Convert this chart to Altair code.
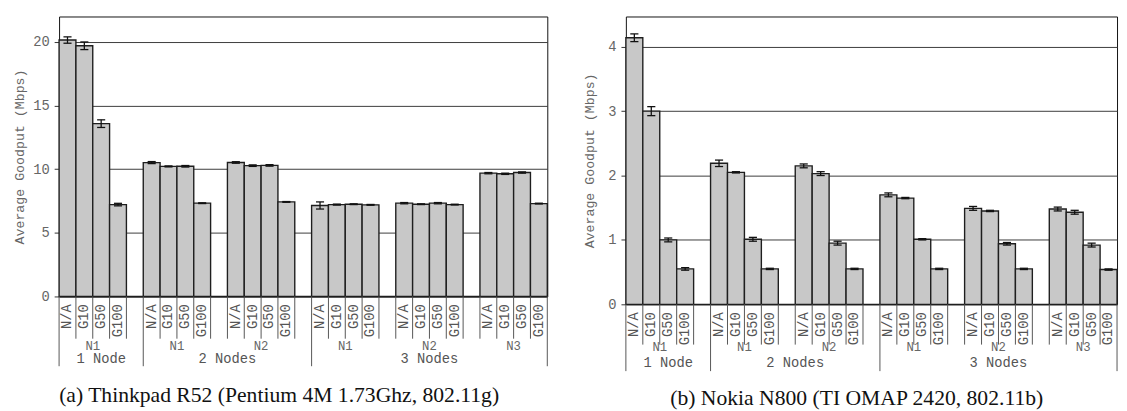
import altair as alt
import pandas as pd

groups = ["1 Node", "2 Nodes", "3 Nodes"]
subgroups = [["N1"], ["N1", "N2"], ["N1", "N2", "N3"]]
configs = ["N/A", "G10", "G50", "G100"]

# (a) Thinkpad R52 — mean goodput (Mbps) per (group, subgroup), bars in config order
thinkpad_mean = [
    [20.15, 19.70, 13.58, 7.22],
    [10.52, 10.22, 10.23, 7.33],
    [10.53, 10.28, 10.30, 7.43],
    [7.15, 7.22, 7.25, 7.20],
    [7.33, 7.25, 7.33, 7.22],
    [9.69, 9.64, 9.74, 7.30],
]
thinkpad_err = [
    [0.25, 0.30, 0.30, 0.10],
    [0.08, 0.04, 0.06, 0.03],
    [0.06, 0.06, 0.06, 0.03],
    [0.28, 0.04, 0.03, 0.03],
    [0.05, 0.03, 0.05, 0.03],
    [0.05, 0.05, 0.05, 0.03],
]
# (b) Nokia N800
nokia_mean = [
    [4.14, 3.00, 1.00, 0.55],
    [2.19, 2.05, 1.01, 0.55],
    [2.15, 2.03, 0.95, 0.55],
    [1.70, 1.65, 1.01, 0.55],
    [1.49, 1.45, 0.94, 0.55],
    [1.48, 1.43, 0.92, 0.54],
]
nokia_err = [
    [0.06, 0.07, 0.03, 0.02],
    [0.05, 0.01, 0.03, 0.01],
    [0.03, 0.03, 0.03, 0.01],
    [0.03, 0.01, 0.01, 0.01],
    [0.03, 0.01, 0.02, 0.01],
    [0.03, 0.03, 0.03, 0.01],
]
thinkpad_ticks = [0, 5, 10, 15, 20]
nokia_ticks = [0, 1, 2, 3, 4]
caption_a = "(a) Thinkpad R52 (Pentium 4M 1.73Ghz, 802.11g)"
caption_b = "(b) Nokia N800 (TI OMAP 2420, 802.11b)"
y_title = "Average Goodput (Mbps)"

MONO = "Liberation Mono"
SERIF = "Liberation Serif"


def build_tables(means, errs):
    bars, subs, grps, short_b, long_b = [], [], [], set(), set()
    slot = 0
    k = 0
    for gi, g in enumerate(groups):
        gstart = slot
        for si, s in enumerate(subgroups[gi]):
            vals, es = means[k], errs[k]
            k += 1
            sstart = slot
            for ci, c in enumerate(configs):
                bars.append(dict(x0=slot, x1=slot + 1, c=slot + 0.5, v=vals[ci],
                                 lo=vals[ci] - es[ci], hi=vals[ci] + es[ci],
                                 cl=slot + 0.26, cr=slot + 0.74, cfg=c))
                slot += 1
            for b in range(sstart, slot + 1):
                short_b.add(b)
            subs.append(dict(c=sstart + 2, name=s))
            last = gi == len(groups) - 1 and si == len(subgroups[gi]) - 1
            if not last:
                bars.append(dict(x0=slot, x1=slot + 1, c=slot + 0.5, v=0.0,
                                 lo=None, hi=None, cl=None, cr=None, cfg=""))
                slot += 1
        grps.append(dict(c=(gstart + slot) / 2, name=g))
        long_b.add(gstart)
        long_b.add(slot)
    short_b -= long_b
    return (pd.DataFrame(bars), pd.DataFrame(subs), pd.DataFrame(grps),
            pd.DataFrame({"b": sorted(short_b)}), pd.DataFrame({"b": sorted(long_b)}), slot)


def panel(means, errs, ymax, ticks, W, H, caption, cap_x, cap_dy,
          sub_dy, grp_dy, short_len, long_len, title_pad, top_shift):
    bars, subs, grps, shorts, longs, n = build_tables(means, errs)
    xs = alt.Scale(domain=[0, n], nice=False, zero=False)
    ys = alt.Scale(domain=[0, ymax], nice=False)
    yax = alt.Axis(values=ticks, grid=True, gridColor="#3a3a3a", gridWidth=1,
                   domain=False, tickColor="#333", tickSize=5, tickWidth=1,
                   labelFont=MONO, labelFontSize=14, labelColor="#666",
                   labelPadding=5, title=y_title, titleFont=MONO,
                   titleFontSize=13.5, titleColor="#666", titleFontWeight="normal",
                   titlePadding=title_pad)
    base = alt.Chart(bars)
    real = base.transform_filter("datum.cfg != ''")
    bar = base.mark_bar(fill="#c8c8c8", stroke="#1e1e1e", strokeWidth=1.4).encode(
        x=alt.X("x0:Q", scale=xs, axis=None), x2="x1:Q",
        y=alt.Y("v:Q", scale=ys, axis=yax), y2=alt.datum(0))
    ev = real.mark_rule(color="#111", strokeWidth=1.3).encode(
        x=alt.X("c:Q", scale=xs, axis=None),
        y=alt.Y("lo:Q", scale=ys, axis=yax), y2="hi:Q")
    cap_hi = real.mark_rule(color="#111", strokeWidth=1.3).encode(
        x=alt.X("cl:Q", scale=xs, axis=None), x2="cr:Q",
        y=alt.Y("hi:Q", scale=ys, axis=yax))
    cap_lo = real.mark_rule(color="#111", strokeWidth=1.3).encode(
        x=alt.X("cl:Q", scale=xs, axis=None), x2="cr:Q",
        y=alt.Y("lo:Q", scale=ys, axis=yax))
    labels = real.mark_text(font=MONO, fontSize=14, color="#555", angle=270,
                            align="right", baseline="middle").encode(
        x=alt.X("c:Q", scale=xs, axis=None), y=alt.value(H + 8), text="cfg:N")
    sep_s = alt.Chart(shorts).mark_rule(color="#555", strokeWidth=1).encode(
        x=alt.X("b:Q", scale=xs, axis=None), y=alt.value(H), y2=alt.value(H + short_len))
    sep_l = alt.Chart(longs).mark_rule(color="#555", strokeWidth=1).encode(
        x=alt.X("b:Q", scale=xs, axis=None), y=alt.value(H), y2=alt.value(H + long_len))
    sub_t = alt.Chart(subs).mark_text(font=MONO, fontSize=12.5, color="#666",
                                      baseline="middle").encode(
        x=alt.X("c:Q", scale=xs, axis=None), y=alt.value(H + sub_dy), text="name:N")
    grp_t = alt.Chart(grps).mark_text(font=MONO, fontSize=14, color="#555",
                                      baseline="middle").encode(
        x=alt.X("c:Q", scale=xs, axis=None), y=alt.value(H + grp_dy), text="name:N")
    cap = alt.Chart(pd.DataFrame({"t": [caption]})).mark_text(
        font=SERIF, fontSize=22, color="#111", baseline="middle").encode(
        x=alt.value(cap_x), y=alt.value(H + cap_dy), text="t:N")
    layers = [bar, ev, cap_hi, cap_lo, labels, sep_s, sep_l, sub_t, grp_t, cap]
    if top_shift:
        spacer = alt.Chart(pd.DataFrame({"a": [0]})).mark_rule(color="white", strokeWidth=1).encode(
            x=alt.value(W / 2), y=alt.value(-top_shift), y2=alt.value(-1))
        layers.append(spacer)
    return alt.layer(*layers).properties(
        width=W, height=H, view=alt.ViewBackground(stroke="#111", strokeWidth=1))


left = panel(thinkpad_mean, thinkpad_err, 22, thinkpad_ticks, 497, 285, caption_a,
             224, 100, 50, 64, 43, 71, 6, 4)
right = panel(nokia_mean, nokia_err, 4.47, nokia_ticks, 500, 293, caption_b,
              235, 96, 44, 60, 41, 68, 12, 0)

chart = alt.hconcat(left, right, spacing=33).properties(
    padding={"left": 4, "top": 0, "right": 0, "bottom": 0},
    background="white",
).configure_view(stroke="#111")

chart.save("out.html", embed_options={"renderer": "svg", "actions": False})
